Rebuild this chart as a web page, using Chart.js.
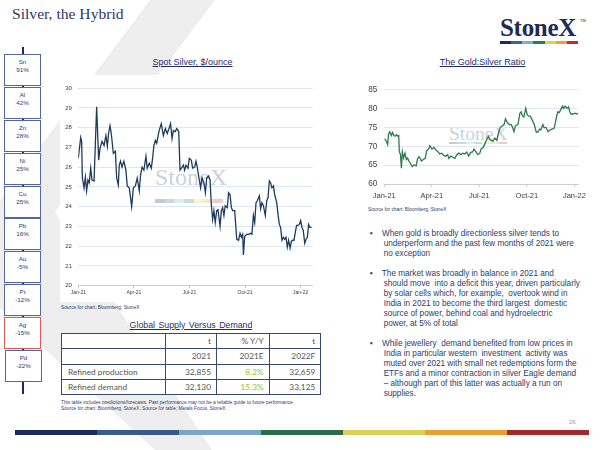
<!DOCTYPE html>
<html>
<head>
<meta charset="utf-8">
<script src="https://cdn.jsdelivr.net/npm/chart.js@4"></script>
<style>
  html, body { margin: 0; padding: 0; background: #fff; }
  #slide { position: relative; width: 600px; height: 450px; overflow: hidden; background: #fff;
           font-family: "Liberation Sans", Arial, sans-serif; color: #2b3a6b; }
  .abs { position: absolute; }
  #bgX { left: 0; top: 0; width: 600px; height: 450px; background: #eeeeee;
         clip-path: polygon(150px 0, 215px 0, 55px 212px, 212px 450px, 155px 450px, 0 308px, 0 200px); }
  #title { left: 12px; top: 5px; font-family: "Liberation Serif", "Times New Roman", serif; font-size: 15.6px; color: #2d3762; }
  #logo { left: 500px; top: 14px; font-family: "Liberation Serif", serif; font-weight: bold; font-size: 25px; color: #1d2b55; letter-spacing: -0.3px; }
  #tm { left: 580px; top: 18px; font-size: 4px; color: #1d2b55; }
  .bar { display: flex; }
  .bar div { flex: 1; height: 100%; }
  #spine { left: 22px; top: 47px; width: 2px; height: 347px; background: #1c2a5a; }
  .box { position: absolute; width: 35px; height: 27px; border: 1px solid #55669c; background: #fff;
         font-size: 6.2px; line-height: 8px; text-align: center; padding-top: 3px; color: #2d3b6e; }
  .ctitle { font-size: 9px; text-decoration: underline; color: #1f2d6a; text-align: center; }
  .src { font-size: 4.8px; color: #2d3b6e; white-space: nowrap; }
  #panel { left: 60px; top: 75px; width: 260px; height: 227px; background: #fff; }
  .wm { font-family: "Liberation Serif", serif; color: #cdd1d8; pointer-events: none; }
  table { border-collapse: collapse; font-family: Lato, "Noto Sans", sans-serif; font-size: 8.3px; color: #555; background: #fff; }
  td { border: 1.3px solid #3b4a6b; height: 14.3px; padding: 0 5px; text-align: right; }
  td.lab { text-align: left; padding-left: 6px; }
  td.g { color: #8cc63e; }
  #bullets { left: 370px; top: 229px; font-size: 8.2px; line-height: 10px; color: #2d3b6e; white-space: pre; }
  #pg { left: 569px; top: 419px; font-size: 6px; color: #9a9a9a; }
</style>
</head>
<body>
<div id="slide">
  <div id="bgX" class="abs"></div>
  <div id="title" class="abs">Silver, the Hybrid</div>
  <div id="logo" class="abs">StoneX</div>
  <div id="tm" class="abs">TM</div>
  <div id="logoBar" class="abs bar" style="left:500px;top:41px;width:78px;height:3px;"></div>

  <div id="spine" class="abs"></div>
  <div id="boxes"></div>

  <div id="panel" class="abs"></div>
  <div class="abs ctitle" style="left:120px;top:57px;width:145px;">Spot Silver, $/ounce</div>
  <div class="abs wm" style="left:155px;top:164px;font-size:24px;">StoneX</div>
  <div id="wm1" class="abs bar" style="left:155px;top:199px;width:68px;height:4px;opacity:0.25;"></div>
  <div class="abs" style="left:50px;top:78px;width:268px;height:220px;"><canvas id="silverChart"></canvas></div>
  <div class="abs src" style="left:61px;top:305px;">Source for chart: Bloomberg, StoneX</div>

  <div class="abs ctitle" style="left:410px;top:57px;width:145px;">The Gold:Silver Ratio</div>
  <div class="abs wm" style="left:449px;top:123px;font-size:19.5px;">StoneX</div>
  <div id="wm2" class="abs bar" style="left:449px;top:141.5px;width:58px;height:2px;opacity:0.25;"></div>
  <div class="abs" style="left:340px;top:78px;width:250px;height:124px;"><canvas id="ratioChart"></canvas></div>
  <div class="abs src" style="left:368px;top:207px;">Source for chart: Bloomberg, StoneX</div>

  <div class="abs ctitle" style="left:110px;top:320px;width:162px;word-spacing:1px;font-size:8.8px;">Global Supply Versus Demand</div>
  <div class="abs" style="left:61px;top:333px;"><table id="tbl"></table></div>
  <div class="abs src" style="left:61px;top:399.5px;line-height:6.2px;">This table includes predictions/forecasts. Past performance may not be a reliable guide to future performance.<br>Source for chart: Bloomberg, StoneX.  Source for table; Metals Focus, StoneX.</div>

  <div id="bullets" class="abs"></div>
  <div id="pg" class="abs">26</div>
  <div id="footBar" class="abs bar" style="left:15px;top:429.5px;width:574px;height:5px;"></div>
</div>

<script>
// x positions are months after Jan-21 (0 = Jan-21, 12 = Jan-22)
const monthTicks = [0, 3, 6, 9, 12];
const monthLabels = ['Jan-21', 'Apr-21', 'Jul-21', 'Oct-21', 'Jan-22'];

const silverMonths = [0, 0.13, 0.18, 0.22, 0.31, 0.38, 0.45, 0.52, 0.59, 0.67, 0.74, 0.85, 0.99, 1.10, 1.17, 1.28,
  1.39, 1.49, 1.57, 1.64, 1.71, 1.78, 1.89, 2.00, 2.07, 2.16, 2.21, 2.28, 2.36, 2.46, 2.57, 2.64, 2.75, 2.88,
  2.97, 3.08, 3.18, 3.29, 3.36, 3.44, 3.54, 3.65, 3.72, 3.83, 3.94, 4.01, 4.08, 4.16, 4.23, 4.34, 4.41, 4.48,
  4.59, 4.70, 4.80, 4.91, 4.98, 5.06, 5.13, 5.24, 5.31, 5.42, 5.49, 5.60, 5.67, 5.74, 5.81, 5.92, 5.99, 6.10,
  6.17, 6.28, 6.35, 6.42, 6.53, 6.60, 6.68, 6.78, 6.86, 6.93, 7.03, 7.11, 7.18, 7.25, 7.32, 7.39, 7.47, 7.54,
  7.65, 7.72, 7.79, 7.86, 7.93, 8.04, 8.11, 8.19, 8.26, 8.33, 8.44, 8.55, 8.65, 8.73, 8.80, 8.87, 8.91, 8.98,
  9.09, 9.19, 9.30, 9.37, 9.45, 9.52, 9.59, 9.66, 9.77, 9.84, 9.91, 9.99, 10.09, 10.17, 10.24, 10.31, 10.38,
  10.45, 10.53, 10.60, 10.71, 10.78, 10.85, 10.92, 10.99, 11.07, 11.14, 11.21, 11.28, 11.35, 11.43, 11.50,
  11.57, 11.64, 11.71, 11.78, 11.86, 11.93, 12.00, 12.07, 12.14, 12.22, 12.29, 12.36, 12.43, 12.50, 12.59];
const silverPrice = [26.45, 27.5, 27.3, 25.45, 24.95, 25.5, 24.8, 25.35, 25.2, 25.95, 25.35, 25.3, 29.05, 26.35, 26.95, 27.3,
  27.1, 27.6, 27.05, 27.75, 28.1, 27.7, 26.7, 26.8, 25.45, 25.1, 26.1, 26.3, 26.0, 26.3, 25.85, 25.05, 24.95, 24.0,
  24.95, 25.05, 25.45, 24.8, 25.6, 26.0, 25.85, 26.55, 25.95, 26.2, 25.95, 26.45, 27.1, 27.35, 27.2, 27.75, 28.0, 28.2,
  27.6, 27.95, 27.7, 28.0, 28.2, 27.45, 27.85, 27.8, 27.95, 27.8, 25.85, 26.0, 26.1, 25.85, 26.1, 25.95, 26.45, 26.35,
  25.95, 26.0, 26.3, 26.0, 25.35, 24.95, 25.45, 25.2, 24.7, 25.45, 25.55, 25.35, 24.1, 23.35, 23.8, 23.2, 23.8, 23.85,
  23.0, 23.8, 23.95, 23.55, 24.05, 23.95, 24.7, 24.6, 23.95, 23.8, 23.8, 22.35, 22.3, 22.65, 22.45, 22.6, 21.55, 22.5,
  22.6, 22.6, 22.65, 22.6, 23.55, 23.2, 24.2, 24.3, 24.55, 23.9, 24.2, 24.05, 23.55, 24.3, 24.45, 25.3, 25.2,
  24.95, 25.05, 24.6, 24.2, 23.6, 23.1, 22.95, 22.3, 22.45, 22.35, 22.45, 21.95, 22.3, 21.9, 22.25,
  22.3, 22.3, 22.7, 23.05, 23.05, 23.1, 23.3, 22.95, 22.8, 22.15, 22.35, 22.45, 23.1, 22.95, 22.95];

const ratioMonths = [0, 0.10, 0.21, 0.27, 0.35, 0.44, 0.52, 0.60, 0.68, 0.77, 0.85, 0.91, 0.95, 1.02, 1.08, 1.14,
  1.22, 1.31, 1.39, 1.47, 1.55, 1.68, 1.76, 1.89, 2.01, 2.09, 2.18, 2.26, 2.34, 2.47, 2.59, 2.67, 2.80, 2.88,
  3.01, 3.13, 3.25, 3.38, 3.50, 3.63, 3.75, 3.88, 4.00, 4.08, 4.21, 4.33, 4.46, 4.58, 4.70, 4.83, 4.95, 5.08,
  5.20, 5.33, 5.45, 5.58, 5.66, 5.78, 5.91, 6.03, 6.11, 6.24, 6.36, 6.49, 6.57, 6.65, 6.74, 6.86, 6.98, 7.11,
  7.19, 7.32, 7.44, 7.56, 7.65, 7.77, 7.90, 8.02, 8.10, 8.19, 8.27, 8.35, 8.44, 8.56, 8.64, 8.73, 8.81, 8.93,
  9.02, 9.10, 9.22, 9.35, 9.47, 9.60, 9.72, 9.80, 9.89, 10.01, 10.09, 10.22, 10.34, 10.47, 10.59, 10.72, 10.80,
  10.88, 10.96, 11.05, 11.13, 11.25, 11.34, 11.42, 11.54, 11.63, 11.71, 11.79, 11.92, 12.04, 12.17, 12.25];
const ratioValues = [72.0, 71.6, 70.5, 73.3, 73.9, 72.9, 73.7, 72.9, 72.7, 73.1, 72.7, 72.9, 68.6, 67.8, 64.2, 68.6,
  66.9, 68.2, 66.5, 66.9, 66.1, 65.3, 64.6, 65.1, 64.8, 66.5, 67.2, 66.9, 66.1, 66.5, 66.9, 68.8, 69.3, 70.2,
  69.3, 69.7, 69.1, 68.6, 68.0, 68.2, 67.6, 67.4, 67.8, 66.8, 67.4, 67.1, 66.8, 67.8, 68.2, 67.8, 68.2, 68.0,
  68.5, 67.4, 68.4, 68.5, 69.3, 68.6, 67.8, 68.2, 69.3, 69.7, 70.8, 72.0, 72.7, 72.0, 71.6, 71.4, 72.2, 71.6,
  73.3, 75.0, 75.4, 75.8, 77.3, 76.3, 75.8, 75.8, 75.0, 73.9, 75.4, 75.6, 75.8, 78.8, 79.2, 78.1, 77.8, 80.1,
  78.4, 78.1, 78.0, 76.9, 75.8, 73.7, 73.9, 74.6, 74.4, 75.8, 75.0, 75.0, 73.9, 74.4, 74.6, 74.8, 76.3,
  78.0, 79.2, 79.0, 79.7, 80.7, 80.1, 80.7, 80.1, 80.5, 79.2, 78.6, 78.6, 78.8, 78.6, 78.8];

const metals = ['Sn', 'Al', 'Zn', 'Ni', 'Cu', 'Pb', 'Au', 'Pt', 'Ag', 'Pd'];
const metalChange = ['91%', '42%', '28%', '25%', '25%', '16%', '-5%', '-12%', '-15%', '-22%'];

const tableHead = [['', 't', '% Y/Y', 't'], ['', '2021', '2021E', '2022F']];
const tableRows = ['Refined production', 'Refined demand'];
const tableActual = ['32,855', '32,130'];
const tableGrowth = ['8.2%', '15.3%'];
const tableForecast = ['32,659', '33,125'];

const bulletText = [
  'When gold is broadly directionless silver tends to\nunderperform and the past few months of 2021 were\nno exception',
  'The market was broadly in balance in 2021 and\nshould move  into a deficit this year, driven particularly\nby solar cells which, for example,  overtook wind in\nIndia in 2021 to become the third largest  domestic\nsource of power, behind coal and hydroelectric\npower, at 5% of total',
  'While jewellery  demand benefited from low prices in\nIndia in particular western  investment  activity was\nmuted over 2021 with small net redemptions form the\nETFs and a minor contraction in silver Eagle demand\n\u2013 although part of this latter was actually a run on\nsupplies.'
];

const brandColors = ['#1d2b55', '#3d5fa8', '#7fb0dc', '#2f7a4f', '#d8d848', '#f0a030', '#c03030'];
const footColors = ['#1f2a5c', '#3a5a8c', '#7aa7c8', '#2e6b4a', '#dbd05a', '#e8a030', '#a3292e'];

// --- static bits of the slide
function fillBar(id, colors) {
  document.getElementById(id).innerHTML = colors.map(c => '<div style="background:' + c + '"></div>').join('');
}
fillBar('logoBar', brandColors);
fillBar('wm1', brandColors);
fillBar('wm2', brandColors);
fillBar('footBar', footColors);

document.getElementById('boxes').innerHTML = metals.map((m, i) => {
  const top = 54.3 + i * 32.8;
  const left = i === metals.length - 1 ? 5 : 4;
  const border = m === 'Ag' ? 'border-color:#e05a5a;' : '';
  return '<div class="box" style="left:' + left + 'px;top:' + top + 'px;' + border + '">' + m + '<br>' + metalChange[i] + '</div>';
}).join('');

let rows = tableHead.map(r => '<tr>' + r.map((c, j) => '<td' + (j === 0 ? ' class="lab"' : '') + '>' + c + '</td>').join('') + '</tr>');
tableRows.forEach((name, i) => {
  rows.push('<tr><td class="lab">' + name + '</td><td>' + tableActual[i] + '</td><td class="g">' + tableGrowth[i] + '</td><td>' + tableForecast[i] + '</td></tr>');
});
document.getElementById('tbl').innerHTML = rows.join('');
const colW = [103, 51, 52.6, 51.7];
document.querySelectorAll('#tbl tr').forEach(tr => {
  tr.querySelectorAll('td').forEach((td, j) => { td.style.width = (colW[j] - 11) + 'px'; });
});

document.getElementById('bullets').innerHTML = bulletText
  .map(t => t.split('\n').map((line, k) => (k === 0 ? '\u25aa    ' : '      ') + line).join('\n'))
  .join('\n\n');

// --- charts
const gridBlue = '#dbe7f4';
const axisGrey = '#c3cfdd';

function lineChart(id, xs, ys, color, cfg) {
  new Chart(document.getElementById(id), {
    type: 'line',
    data: {
      datasets: [{
        data: xs.map((x, i) => ({ x: x, y: ys[i] })),
        borderColor: color,
        borderWidth: 1.3,
        pointRadius: 0,
        tension: 0
      }]
    },
    options: {
      animation: false,
      responsive: true,
      maintainAspectRatio: false,
      layout: { padding: cfg.padding },
      plugins: { legend: { display: false }, tooltip: { enabled: false } },
      scales: {
        x: {
          type: 'linear',
          min: 0,
          max: cfg.xMax,
          afterBuildTicks: s => { s.ticks = monthTicks.map(v => ({ value: v })); },
          afterFit: s => { s.height = cfg.xHeight; },
          grid: { drawOnChartArea: false, drawTicks: true, tickLength: cfg.tickLen, color: axisGrey },
          border: { color: axisGrey, width: 1 },
          ticks: {
            autoSkip: false,
            maxRotation: 0,
            padding: cfg.xPad,
            color: '#404040',
            font: { family: 'Liberation Sans', size: cfg.xFont },
            callback: v => monthLabels[monthTicks.indexOf(v)]
          }
        },
        y: {
          min: cfg.yMin,
          max: cfg.yMax,
          afterFit: s => { s.width = cfg.yWidth; },
          grid: { color: gridBlue, lineWidth: 1, drawTicks: false },
          border: { display: false },
          ticks: {
            stepSize: cfg.yStep,
            padding: cfg.yPad,
            color: '#404040',
            font: { family: 'Liberation Sans', size: cfg.yFont }
          }
        }
      }
    }
  });
}

lineChart('silverChart', silverMonths, silverPrice, '#1f3b5c', {
  padding: { top: 7.7, right: 5.3, bottom: 0, left: 0 },
  xMax: 12.65, xHeight: 12.3, tickLen: 2.5, xPad: 1, xFont: 5,
  yMin: 20, yMax: 30, yStep: 1, yWidth: 28.3, yPad: 6.5, yFont: 6
});

lineChart('ratioChart', ratioMonths, ratioValues, '#2d7a4e', {
  padding: { top: 7.7, right: 8.7, bottom: 0, left: 0 },
  xMax: 12.25, xHeight: 18, tickLen: 3, xPad: 4, xFont: 7.5,
  yMin: 60, yMax: 85, yStep: 5, yWidth: 44.3, yPad: 7, yFont: 8.2
});
</script>
</body>
</html>
